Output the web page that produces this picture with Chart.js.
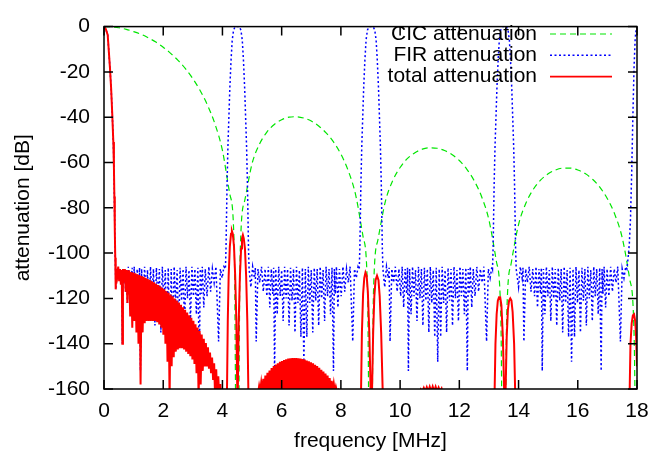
<!DOCTYPE html>
<html>
<head>
<meta charset="utf-8">
<script src="https://cdn.jsdelivr.net/npm/chart.js@4.4.0/dist/chart.umd.min.js"></script>
<style>
    html, body { margin: 0; padding: 0; background: #fff; }
</style>
</head>
<body>
<canvas id="attenuationChart" width="662" height="457"></canvas>
<script>
// axis ticks
var xTicks = [0, 2, 4, 6, 8, 10, 12, 14, 16, 18];
var yTicks = [0, -20, -40, -60, -80, -100, -120, -140, -160];

// CIC attenuation (dB)
var cicFreq = [0, 0.25, 0.5, 0.75, 1, 1.25, 1.5, 1.75, 2, 2.25, 2.5, 2.75, 3, 3.25, 3.5, 3.75, 4, 4.25, 4.4, 4.5,
    4.6, 4.75, 5, 5.25, 5.5, 5.75, 6, 6.25, 6.5, 6.75, 7, 7.25, 7.5, 7.75, 8, 8.25, 8.5, 8.75, 8.9, 9,
    9.1, 9.25, 9.5, 9.75, 10, 10.25, 10.5, 10.75, 11, 11.25, 11.5, 11.75, 12, 12.25, 12.5, 12.75, 13, 13.25, 13.4, 13.5,
    13.6, 13.75, 14, 14.25, 14.5, 14.75, 15, 15.25, 15.5, 15.75, 16, 16.25, 16.5, 16.75, 17, 17.25, 17.5, 17.75, 17.9, 18];
var cicDb = [0, -0.1, -0.5, -1.2, -2.2, -3.4, -5, -6.8, -9.1, -11.8, -14.9, -18.6, -23, -28.3, -34.8, -43.1, -54.7, -74, -98.6, -250,
    -99.8, -76.9, -60.5, -51.9, -46.6, -43.2, -41.1, -40, -39.8, -40.4, -41.7, -43.9, -46.9, -50.9, -56.3, -63.7, -74.4, -92.8, -117, -250,
    -117.6, -94.2, -77.3, -68, -62.2, -58.2, -55.7, -54.1, -53.5, -53.7, -54.7, -56.5, -59.1, -62.9, -68, -75, -85.4, -103.6, -127.6, -250,
    -128, -104.6, -87.4, -77.9, -71.8, -67.7, -65, -63.3, -62.5, -62.5, -63.3, -64.9, -67.4, -71, -76, -82.9, -93.2, -111.2, -135.2, -250];

// FIR attenuation (dB): passband images at 0, 4.5, 9, 13.5, 18 MHz, dense stopband ripple between
var firFreq = [
    // passband at 0
    0, 0.06, 0.125, 0.2, 0.24, 0.28, 0.315, 0.335, 0.35, 0.365, 0.38, 0.39,
    // stopband 0.4 - 4.1
    0.40, 0.42, 0.45, 0.48, 0.51, 0.54, 0.57, 0.60, 0.62, 0.64, 0.67, 0.70, 0.73, 0.76, 0.79, 0.82, 0.88, 0.95, 0.99,
    1.02, 1.07, 1.12, 1.17, 1.20, 1.23, 1.27,
    1.32, 1.37, 1.42, 1.47, 1.52, 1.57, 1.62, 1.67, 1.72, 1.77, 1.82, 1.87, 1.92, 1.97, 2.02, 2.07, 2.12, 2.17, 2.22,
    2.27, 2.32, 2.37, 2.42, 2.47, 2.52, 2.57, 2.62, 2.67, 2.72, 2.77, 2.82, 2.87, 2.92, 2.97, 3.02, 3.07, 3.12, 3.17,
    3.22, 3.25, 3.28, 3.32, 3.37, 3.42,
    3.48, 3.54, 3.60, 3.66, 3.72, 3.78, 3.87, 3.93, 3.99, 4.05,
    // image at 4.5
    4.10, 4.12, 4.14, 4.155, 4.185, 4.22, 4.25, 4.29, 4.33, 4.375, 4.43, 4.57, 4.625, 4.67, 4.71, 4.75, 4.78, 4.815, 4.845, 4.86, 4.88, 4.90,
    // stopband 4.9 - 8.6
    4.96, 5.02, 5.08, 5.11, 5.14, 5.20, 5.26, 5.32, 5.38, 5.44, 5.50,
    5.55, 5.60, 5.65, 5.70, 5.73, 5.76, 5.80,
    5.85, 5.90, 5.95, 6.00, 6.05, 6.10, 6.15, 6.20, 6.25, 6.30, 6.35, 6.40, 6.45, 6.50, 6.55, 6.60, 6.65, 6.70, 6.75,
    6.80, 6.85, 6.90, 6.95, 7.00, 7.05, 7.10, 7.15, 7.20, 7.25, 7.30, 7.35, 7.40, 7.45, 7.50, 7.55, 7.60, 7.65, 7.70,
    7.75, 7.78, 7.81, 7.85, 7.90, 7.95,
    8.01, 8.07, 8.13, 8.19, 8.25, 8.31, 8.40, 8.46, 8.52, 8.58,
    // image at 9
    8.62, 8.64, 8.66, 8.675, 8.705, 8.74, 8.77, 8.81, 8.85, 8.895, 8.95, 9.09, 9.145, 9.19, 9.23, 9.27, 9.30, 9.335, 9.365, 9.38, 9.40, 9.42,
    // stopband 9.4 - 13.1
    9.48, 9.54, 9.60, 9.63, 9.66, 9.72, 9.78, 9.84, 9.90, 9.96, 10.02,
    10.07, 10.12, 10.17, 10.22, 10.25, 10.28, 10.32,
    10.37, 10.42, 10.47, 10.52, 10.57, 10.62, 10.67, 10.72, 10.77, 10.82, 10.87, 10.92, 10.97, 11.02, 11.07, 11.12, 11.17, 11.22, 11.27,
    11.32, 11.37, 11.42, 11.47, 11.52, 11.57, 11.62, 11.67, 11.72, 11.77, 11.82, 11.87, 11.92, 11.97, 12.02, 12.07, 12.12, 12.17, 12.22,
    12.27, 12.30, 12.33, 12.37, 12.42, 12.47,
    12.53, 12.59, 12.65, 12.71, 12.77, 12.83, 12.92, 12.98, 13.04, 13.10,
    // image at 13.5
    13.12, 13.14, 13.16, 13.175, 13.205, 13.24, 13.27, 13.31, 13.35, 13.395, 13.45, 13.59, 13.645, 13.69, 13.73, 13.77, 13.80, 13.835, 13.865, 13.88, 13.90, 13.92,
    // stopband 13.9 - 17.6
    14.00, 14.06, 14.12, 14.15, 14.18, 14.24, 14.30, 14.36, 14.42, 14.48, 14.54,
    14.59, 14.64, 14.69, 14.74, 14.77, 14.80, 14.84,
    14.89, 14.94, 14.99, 15.04, 15.09, 15.14, 15.19, 15.24, 15.29, 15.34, 15.39, 15.44, 15.49, 15.54, 15.59, 15.64, 15.69, 15.74, 15.79,
    15.84, 15.89, 15.94, 15.99, 16.04, 16.09, 16.14, 16.19, 16.24, 16.29, 16.34, 16.39, 16.44, 16.49, 16.54, 16.59, 16.64, 16.69, 16.74,
    16.79, 16.82, 16.85, 16.89, 16.94, 16.99,
    17.05, 17.11, 17.17, 17.23, 17.29, 17.35, 17.44, 17.50, 17.56, 17.62,
    // image at 18
    17.66, 17.70, 17.74, 17.78, 17.82, 17.86, 17.90, 17.94, 17.97, 18
];
var firDb = [
    0, -1, -3.7, -18, -27, -39, -51, -62, -75, -90, -102, -108,
    -116, -107, -110, -106, -112, -107, -114, -107.5, -140, -107, -113, -107, -117, -107.5, -122, -106, -118, -106.5, -121,
    -106, -124, -107, -118, -106.5, -152, -107,
    -127, -106, -119, -107.5, -130, -106, -120, -107, -132, -106.5, -121, -107, -135, -106, -122, -107.5, -137, -106.5, -148,
    -107, -137, -106, -122, -107.5, -135, -106.5, -121, -107, -132, -106, -120, -107.5, -130, -106, -119, -107, -127, -106.5,
    -152, -107, -118, -106, -124, -107,
    -119, -106, -117, -107, -113, -106, -139, -107, -111, -106,
    -107, -98, -82, -70, -53, -39, -27, -15, -6, -1.6, 0, 0, -1.6, -6, -15, -27, -39, -53, -70, -82, -98, -107,
    -115, -106, -111, -106.5, -139, -107, -113, -106, -117, -107, -119,
    -106, -124, -107, -118, -106.5, -152, -107,
    -127, -106, -119, -107.5, -130, -106, -120, -107, -132, -106.5, -121, -107, -135, -106, -122, -107.5, -137, -106.5, -148,
    -107, -137, -106, -122, -107.5, -135, -106.5, -121, -107, -132, -106, -120, -107.5, -130, -106, -119, -107, -127, -106.5,
    -152, -107, -118, -106, -124, -107,
    -119, -106, -117, -107, -113, -106, -139, -107, -111, -106,
    -107, -98, -82, -70, -53, -39, -27, -15, -6, -1.6, 0, 0, -1.6, -6, -15, -27, -39, -53, -70, -82, -98, -107,
    -115, -106, -111, -106.5, -139, -107, -113, -106, -117, -107, -119,
    -106, -124, -107, -118, -106.5, -152, -107,
    -127, -106, -119, -107.5, -130, -106, -120, -107, -132, -106.5, -121, -107, -135, -106, -122, -107.5, -137, -106.5, -148,
    -107, -137, -106, -122, -107.5, -135, -106.5, -121, -107, -132, -106, -120, -107.5, -130, -106, -119, -107, -127, -106.5,
    -152, -107, -118, -106, -124, -107,
    -119, -106, -117, -107, -113, -106, -139, -107, -111, -106,
    -107, -98, -82, -70, -53, -39, -27, -15, -6, -1.6, 0, 0, -1.6, -6, -15, -27, -39, -53, -70, -82, -98, -107,
    -115, -106, -111, -106.5, -139, -107, -113, -106, -117, -107, -119,
    -106, -124, -107, -118, -106.5, -152, -107,
    -127, -106, -119, -107.5, -130, -106, -120, -107, -132, -106.5, -121, -107, -135, -106, -122, -107.5, -137, -106.5, -148,
    -107, -137, -106, -122, -107.5, -135, -106.5, -121, -107, -132, -106, -120, -107.5, -130, -106, -119, -107, -127, -106.5,
    -152, -107, -118, -106, -124, -107,
    -119, -106, -117, -107, -113, -106, -139, -107, -111, -106,
    -107, -102, -96, -85, -65, -40, -18, -5, -1.5, 0
];

// total attenuation (dB); values below -160 fall off the plot
var totalFreq = [
    0, 0.06, 0.125, 0.2, 0.24, 0.28, 0.315, 0.335, 0.35, 0.365, 0.38, 0.39,
    0.40, 0.42, 0.45, 0.48, 0.51, 0.54, 0.57, 0.60, 0.62, 0.64, 0.67, 0.70, 0.73, 0.76, 0.79, 0.82,
    0.85, 0.885, 0.92, 0.955, 0.99, 1.025, 1.06, 1.095, 1.13, 1.165,
    1.20, 1.235, 1.27, 1.305, 1.34, 1.375, 1.41, 1.445, 1.48, 1.515,
    1.55, 1.585, 1.62, 1.655, 1.69, 1.725, 1.76, 1.795, 1.83, 1.865,
    1.90, 1.935, 1.97, 2.005, 2.04, 2.075, 2.11, 2.145, 2.18, 2.215,
    2.25, 2.285, 2.32, 2.355, 2.39, 2.425, 2.46, 2.495, 2.53, 2.565,
    2.60, 2.635, 2.67, 2.705, 2.74, 2.775, 2.81, 2.845, 2.88, 2.915,
    2.95, 2.985, 3.02, 3.055, 3.09, 3.125, 3.16, 3.195, 3.23, 3.265,
    3.30, 3.335, 3.37, 3.405, 3.44, 3.475, 3.51, 3.545, 3.58, 3.615,
    3.65, 3.685, 3.72, 3.755, 3.79, 3.825, 3.86, 3.895, 3.93, 3.965,
    4.00, 4.06,
    4.15, 4.18, 4.21, 4.25, 4.29, 4.32, 4.35, 4.39, 4.43, 4.47, 4.51, 4.55, 4.59, 4.63, 4.66, 4.69, 4.72, 4.76, 4.80, 4.84, 4.88,
    5.17, 5.24, 5.275, 5.31, 5.345, 5.38, 5.415, 5.45, 5.485, 5.52,
    5.555, 5.59, 5.625, 5.66, 5.695, 5.73, 5.765, 5.80, 5.835, 5.87,
    5.905, 5.94, 5.975, 6.01, 6.045, 6.08, 6.115, 6.15, 6.185, 6.22,
    6.255, 6.29, 6.325, 6.36, 6.395, 6.43, 6.465, 6.50, 6.535, 6.57,
    6.605, 6.64, 6.675, 6.71, 6.745, 6.78, 6.815, 6.85, 6.885, 6.92,
    6.955, 6.99, 7.025, 7.06, 7.095, 7.13, 7.165, 7.20, 7.235, 7.27,
    7.305, 7.34, 7.375, 7.41, 7.445, 7.48, 7.515, 7.55, 7.585, 7.62,
    7.655, 7.69, 7.725, 7.76, 7.795, 7.83, 7.865, 7.90, 7.935,
    8.67, 8.71, 8.75, 8.79, 8.83, 8.87, 8.91, 8.96, 9.03, 9.09, 9.13, 9.17, 9.22, 9.27, 9.31, 9.36, 9.43,
    10.6, 10.7, 10.75, 10.8, 10.85, 10.9, 10.95, 11.0, 11.05, 11.1, 11.15, 11.2, 11.25, 11.3, 11.35, 11.4, 11.5,
    13.18, 13.22, 13.26, 13.3, 13.34, 13.38, 13.42, 13.47, 13.54, 13.6, 13.64, 13.68, 13.72, 13.76, 13.8, 13.85, 13.9,
    17.74, 17.78, 17.82, 17.86, 17.9, 17.94, 17.97, 18
];
var totalDb = [
    0, -1, -3.7, -18, -27, -39, -51, -62, -75, -90, -102, -108,
    -116, -107, -110, -106, -112, -107, -114, -107.5, -140, -107, -113, -107, -117, -107.5, -122, -108,
    -108, -128, -108.3, -133, -108.6, -130, -108.9, -135, -109.3, -140,
    -109.7, -158, -110.1, -135, -110.4, -131, -110.9, -130, -111.4, -130,
    -111.9, -130, -112.4, -130, -112.9, -130, -113.5, -130.5, -114.1, -131.5,
    -114.7, -133, -115.3, -136, -116, -140, -116.8, -148, -117.5, -165,
    -118.3, -150, -119.1, -146, -120, -143.5, -120.9, -142.5, -121.8, -142,
    -122.8, -142, -123.9, -142.5, -125, -143.5, -126.2, -144.5, -127.4, -145.5,
    -128.6, -147, -129.9, -149, -131.4, -153, -132.9, -165, -134.4, -158,
    -136, -152, -137.8, -150, -139.7, -150, -141.6, -151, -143.9, -153,
    -146.1, -156, -148.6, -165, -151.3, -165, -154.4, -165, -157.8, -170,
    -161.2, -175,
    -165, -130, -110, -97, -91.5, -90.2, -91.5, -97, -110, -130, -170, -130, -110, -98, -93.5, -92, -93.5, -98, -110, -130, -165,
    -165, -158.6, -161, -157.1, -161, -155.5, -161, -154.1, -161, -152.8,
    -161, -151.8, -161, -150.8, -161, -149.9, -161, -149.2, -161, -148.6,
    -161, -148, -161, -147.6, -161, -147.2, -161, -146.9, -161, -146.6,
    -161, -146.45, -161, -146.35, -161, -146.3, -161, -146.3, -161, -146.4,
    -161, -146.6, -161, -146.8, -161, -147, -161, -147.4, -161, -147.8,
    -161, -148.2, -161, -148.7, -161, -149.3, -161, -149.9, -161, -150.6,
    -161, -151.5, -161, -152.3, -161, -153.2, -161, -154.1, -161, -155.2,
    -161, -156.4, -161, -157.6, -161, -159, -161, -160.5, -165,
    -170, -135, -118, -111, -108.6, -110, -117, -135, -175, -135, -119, -112, -110, -112, -119, -135, -170,
    -165, -160.2, -161, -159.5, -161, -159.2, -161, -159, -161, -158.9, -161, -159, -161, -159.3, -161, -159.8, -165,
    -170, -140, -127, -121, -119.5, -119.5, -123, -137, -175, -137, -125, -121, -120, -121, -126, -140, -170,
    -170, -140, -131, -127.5, -127, -130, -137, -150
];

function points(freq, db) {
    if (freq.length !== db.length) throw new Error('length mismatch ' + freq.length + ' vs ' + db.length);
    return freq.map(function (f, i) { return { x: f, y: db[i] }; });
}

var fontFamily = '"Liberation Sans", Arial, Helvetica, sans-serif';
Chart.defaults.font.family = fontFamily;
Chart.defaults.font.size = 21;
Chart.defaults.color = '#000';

// gnuplot style frame: box border, inward ticks on all sides, key at top right
var gnuplotFrame = {
    id: 'gnuplotFrame',
    afterDraw: function (chart) {
        var ctx = chart.ctx, a = chart.chartArea;
        var xs = chart.scales.x, ys = chart.scales.y;
        ctx.save();
        ctx.strokeStyle = '#000';
        ctx.lineWidth = 1.5;
        ctx.setLineDash([]);
        ctx.strokeRect(a.left, a.top, a.right - a.left, a.bottom - a.top);
        ctx.beginPath();
        xTicks.forEach(function (v) {
            var px = xs.getPixelForValue(v);
            ctx.moveTo(px, a.bottom); ctx.lineTo(px, a.bottom - 9);
            ctx.moveTo(px, a.top); ctx.lineTo(px, a.top + 9);
        });
        yTicks.forEach(function (v) {
            var py = ys.getPixelForValue(v);
            ctx.moveTo(a.left, py); ctx.lineTo(a.left + 9, py);
            ctx.moveTo(a.right, py); ctx.lineTo(a.right - 9, py);
        });
        ctx.stroke();

        ctx.font = '21px ' + fontFamily;
        ctx.textAlign = 'right';
        ctx.textBaseline = 'middle';
        chart.data.datasets.forEach(function (ds, i) {
            var ty = 34 + i * 21.3;
            ctx.fillStyle = '#000';
            ctx.fillText(ds.label, 537, ty);
            ctx.strokeStyle = ds.borderColor;
            ctx.lineWidth = Math.min(ds.borderWidth, 1.6);
            ctx.setLineDash(ds.borderDash || []);
            ctx.beginPath();
            ctx.moveTo(550, ty);
            ctx.lineTo(612, ty);
            ctx.stroke();
        });
        ctx.restore();
    }
};

var ctx = document.getElementById('attenuationChart').getContext('2d');
var chart = new Chart(ctx, {
    type: 'line',
    data: {
        datasets: [
            {
                label: 'CIC attenuation',
                data: points(cicFreq, cicDb),
                borderColor: '#00e600',
                borderWidth: 1.2,
                borderDash: [6, 4],
                cubicInterpolationMode: 'monotone',
                pointRadius: 0,
                fill: false,
                order: 3
            },
            {
                label: 'FIR attenuation',
                data: points(firFreq, firDb),
                borderColor: '#0000ff',
                borderWidth: 1.5,
                borderDash: [2, 2.5],
                tension: 0,
                pointRadius: 0,
                fill: false,
                order: 2
            },
            {
                label: 'total attenuation',
                data: points(totalFreq, totalDb),
                borderColor: '#ff0000',
                borderWidth: 2,
                tension: 0,
                pointRadius: 0,
                fill: false,
                order: 1
            }
        ]
    },
    options: {
        responsive: false,
        animation: false,
        devicePixelRatio: 1,
        layout: { padding: { top: 13, right: 25, left: 0, bottom: 0 } },
        plugins: {
            legend: { display: false },
            tooltip: { enabled: false }
        },
        scales: {
            x: {
                type: 'linear',
                min: 0,
                max: 18,
                afterFit: function (scale) { scale.height = 68; },
                afterBuildTicks: function (scale) {
                    scale.ticks = xTicks.map(function (v) { return { value: v }; });
                },
                ticks: { padding: 10, color: '#000', maxRotation: 0 },
                grid: { display: false, drawTicks: false },
                border: { display: false },
                title: { display: true, text: 'frequency [MHz]', color: '#000', padding: { top: 3, bottom: 3 } }
            },
            y: {
                type: 'linear',
                min: -160,
                max: 0,
                afterFit: function (scale) { scale.width = 104; },
                afterBuildTicks: function (scale) {
                    scale.ticks = yTicks.map(function (v) { return { value: v }; });
                },
                ticks: { padding: 14, color: '#000' },
                grid: { display: false, drawTicks: false },
                border: { display: false },
                title: { display: true, text: 'attenuation [dB]', color: '#000', padding: { top: 11, bottom: 0 } }
            }
        }
    },
    plugins: [gnuplotFrame]
});
</script>
</body>
</html>
